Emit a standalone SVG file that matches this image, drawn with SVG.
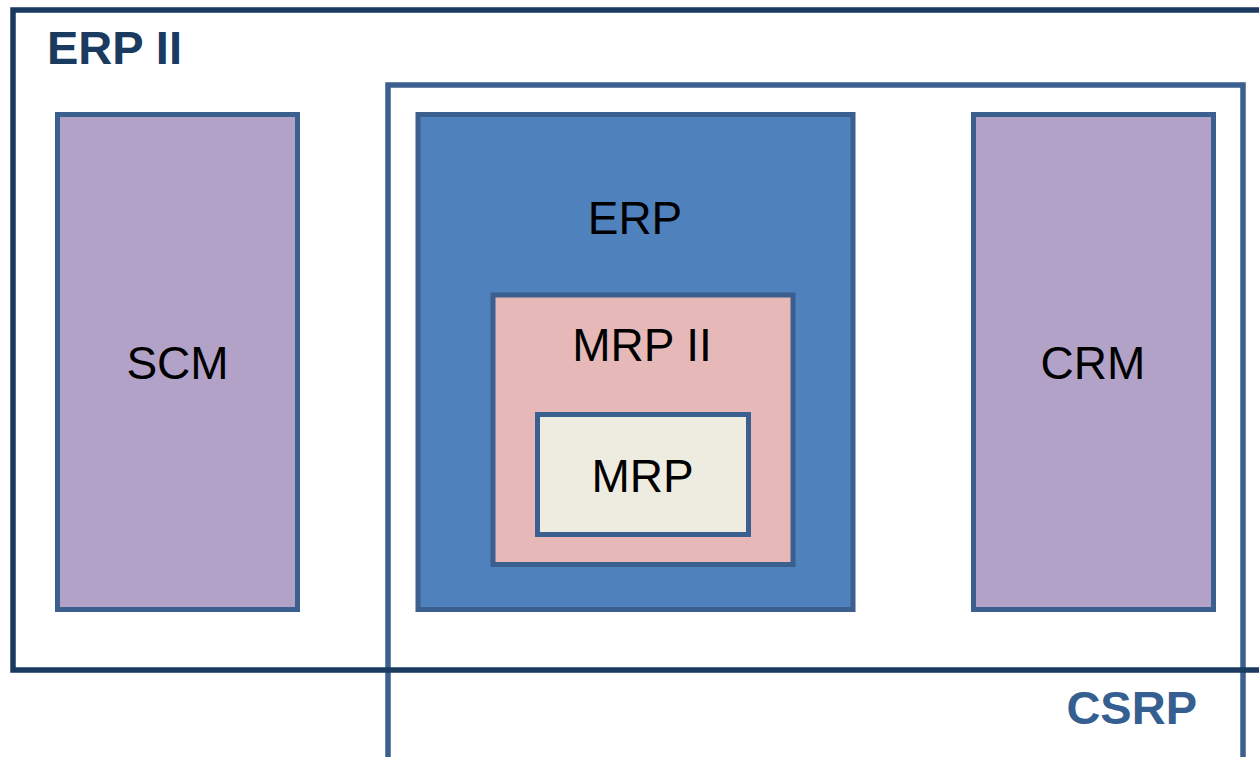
<svg xmlns="http://www.w3.org/2000/svg" width="1259" height="757" viewBox="0 0 1259 757">
<style>
.frame{fill:none;stroke-width:5.5}
.box{stroke:#3b5f8e;stroke-width:5}
.lbl{font-family:"Liberation Sans",Arial,sans-serif;font-size:46px;fill:#000;text-anchor:middle}
.title{font-family:"Liberation Sans",Arial,sans-serif;font-size:47px;font-weight:bold}
</style>
<rect width="1259" height="757" fill="#ffffff"/>
<g id="csrp">
<rect class="frame" x="388" y="85" width="855" height="690" stroke="#3b5f8e"/>
<text class="title" x="1197" y="724" fill="#365f91" text-anchor="end">CSRP</text>
</g>
<g id="erp2">
<rect class="frame" x="13" y="10" width="1252" height="660" stroke="#1a3a60"/>
<text class="title" x="47" y="64" fill="#1a3a60">ERP II</text>
</g>
<g id="scm">
<rect class="box" x="57.5" y="114.5" width="240" height="495" fill="#b3a2c7"/>
<text class="lbl" x="177.5" y="379">SCM</text>
</g>
<g id="crm">
<rect class="box" x="973.5" y="114.5" width="240" height="495" fill="#b3a2c7"/>
<text class="lbl" x="1093" y="379">CRM</text>
</g>
<g id="erp">
<rect class="box" x="418" y="114.5" width="435" height="495" fill="#4f81bd"/>
<text class="lbl" x="635" y="234">ERP</text>
</g>
<g id="mrp2">
<rect class="box" x="493" y="295" width="300" height="269.5" fill="#e6b9b8"/>
<text class="lbl" x="642" y="361">MRP II</text>
</g>
<g id="mrp">
<rect class="box" x="537.5" y="414.5" width="211" height="120" fill="#eeece1"/>
<text class="lbl" x="642.5" y="492">MRP</text>
</g>
<g id="connectors"></g>
</svg>
